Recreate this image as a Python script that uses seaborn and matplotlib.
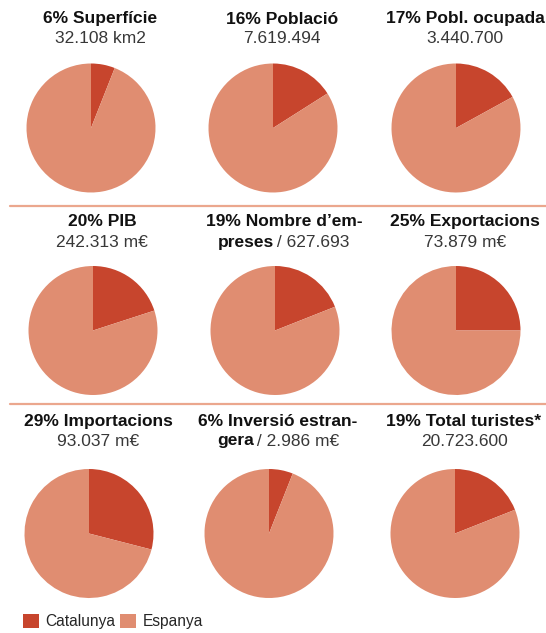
import matplotlib
matplotlib.use("Agg")
import matplotlib.pyplot as plt
from matplotlib.patches import Patch
from matplotlib.lines import Line2D
import seaborn as sns

# Data: share of Catalonia within Spain
catalunya_pct = [6, 16, 17, 20, 19, 25, 29, 6, 19]
title_bold = ["6% Superfície", "16% Població", "17% Pobl. ocupada",
              "20% PIB", "19% Nombre d\u2019em-", "25% Exportacions",
              "29% Importacions", "6% Inversió estran-", "19% Total turistes*"]
sub_bold = ["", "", "", "", "preses", "", "", "gera", ""]
sub_normal = ["32.108 km2", "7.619.494", "3.440.700",
              "242.313 m€", " / 627.693", "73.879 m€",
              "93.037 m€", " / 2.986 m€", "20.723.600"]
legend_labels = ["Catalunya", "Espanya"]

CAT_COLOR = "#C7452D"
ESP_COLOR = "#E08D71"
LINE_COLOR = "#EBA78E"

sns.set_style("white")
plt.rcParams["font.family"] = ["Liberation Sans", "DejaVu Sans"]
palette = sns.color_palette([CAT_COLOR, ESP_COLOR])

W, H = 546, 633
fig = plt.figure(figsize=(W / 100, H / 100), dpi=100)


def fx(x):
    return x / W


def fy(y):
    return 1 - y / H


# layout (pixels from top-left)
pie_cx = [[91, 273, 456], [93, 275, 456], [89, 269, 455]]
pie_cy = [128, 330.5, 533.5]
radius = 64.5
title_dx = 9
bold_base = [23.5, 226, 426]
sub_base = [43, 247, 445.5]
FS = 12.5

renderer = fig.canvas.get_renderer()

for i, pct in enumerate(catalunya_pct):
    r, c = divmod(i, 3)
    cx, cy = pie_cx[r][c], pie_cy[r]
    ax = fig.add_axes([fx(cx - radius), fy(cy + radius),
                       2 * radius / W, 2 * radius / H])
    ax.pie([pct, 100 - pct], colors=palette, startangle=90,
           counterclock=False, radius=1, wedgeprops=dict(linewidth=0))
    ax.set_xlim(-1, 1)
    ax.set_ylim(-1, 1)
    ax.axis("off")

    tx = cx + title_dx
    fig.text(fx(tx), fy(bold_base[r]), title_bold[i], ha="center",
             va="baseline", fontsize=FS, fontweight="bold", color="#111111")
    if sub_bold[i]:
        t1 = fig.text(0, 0, sub_bold[i], fontsize=FS, fontweight="bold")
        t2 = fig.text(0, 0, sub_normal[i], fontsize=FS)
        w1 = t1.get_window_extent(renderer).width - 2
        w2 = t2.get_window_extent(renderer).width
        t1.remove()
        t2.remove()
        x0 = tx - (w1 + w2) / 2
        fig.text(fx(x0), fy(sub_base[r]), sub_bold[i], ha="left",
                 va="baseline", fontsize=FS, fontweight="bold", color="#111111")
        fig.text(fx(x0 + w1), fy(sub_base[r]), sub_normal[i], ha="left",
                 va="baseline", fontsize=FS, color="#383838")
    else:
        fig.text(fx(tx), fy(sub_base[r]), sub_normal[i], ha="center",
                 va="baseline", fontsize=FS, color="#383838")

# separators between rows
for y in [205.5, 404]:
    fig.add_artist(Line2D([fx(10), fx(546)], [fy(y), fy(y)],
                          transform=fig.transFigure, color=LINE_COLOR, lw=1.6))

handles = [Patch(facecolor=palette[0], edgecolor="none"),
           Patch(facecolor=palette[1], edgecolor="none")]
fig.legend(handles, legend_labels, loc="lower left",
           bbox_to_anchor=(fx(12), fy(640)), ncol=2, frameon=False,
           fontsize=11.2, handlelength=1.05, handleheight=1.05,
           handletextpad=0.4, columnspacing=0.3, borderpad=0.2)

fig.savefig("out.png", dpi=100)
